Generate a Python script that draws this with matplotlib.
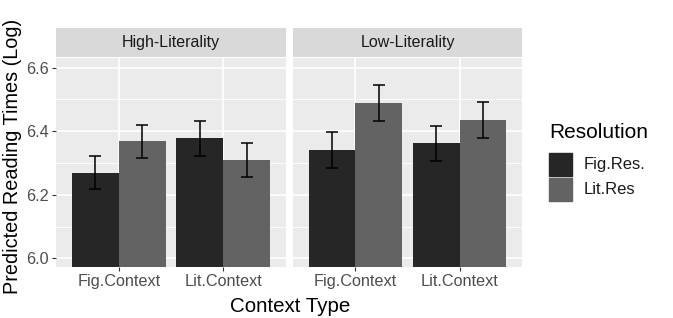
import matplotlib
matplotlib.use("Agg")
import matplotlib.pyplot as plt
import numpy as np

plt.rcParams['font.family'] = ['Liberation Sans', 'DejaVu Sans']

facets = ["High-Literality", "Low-Literality"]
contexts = ["Fig.Context", "Lit.Context"]
resolutions = ["Fig.Res.", "Lit.Res"]
# values[facet][resolution][context]
means = {
    "High-Literality": {"Fig.Res.": [6.270, 6.378], "Lit.Res": [6.368, 6.309]},
    "Low-Literality": {"Fig.Res.": [6.340, 6.362], "Lit.Res": [6.489, 6.435]},
}
errs = {
    "High-Literality": {"Fig.Res.": [0.053, 0.055], "Lit.Res": [0.052, 0.053]},
    "Low-Literality": {"Fig.Res.": [0.056, 0.055], "Lit.Res": [0.056, 0.057]},
}
colors = {"Fig.Res.": "#262626", "Lit.Res": "#636363"}
yticks = [6.0, 6.2, 6.4, 6.6]

W, H = 673, 318
fig = plt.figure(figsize=(W / 100, H / 100), dpi=100)

panel_x = [(56, 286), (293, 522)]
panel_top, panel_bot = 58, 267
strip_top = 28
ylim = (5.973, 6.63)

for fi, facet in enumerate(facets):
    x0, x1 = panel_x[fi]
    ax = fig.add_axes([x0 / W, 1 - panel_bot / H, (x1 - x0) / W, (panel_bot - panel_top) / H])
    ax.set_facecolor("#EBEBEB")
    for s in ax.spines.values():
        s.set_visible(False)
    ax.set_xlim(0.4, 2.6)
    ax.set_ylim(*ylim)
    for y in [6.1, 6.3, 6.5]:
        ax.axhline(y, color="white", lw=0.6, zorder=0)
    for y in yticks:
        ax.axhline(y, color="white", lw=1.2, zorder=0)
    xs = np.arange(1, len(contexts) + 1)
    for x in xs:
        ax.axvline(x, color="white", lw=1.2, zorder=0)
    bw = 0.45
    for ri, res in enumerate(resolutions):
        pos = xs + (ri - 0.5) * bw
        m = np.array(means[facet][res])
        ax.bar(pos, m - ylim[0], bottom=ylim[0], width=bw, color=colors[res], zorder=2)
        ax.errorbar(pos, m, yerr=errs[facet][res], fmt="none", ecolor="black",
                    elinewidth=1.1, capsize=4, capthick=1.1, zorder=3)
    ax.set_xticks(xs)
    ax.set_xticklabels(contexts, fontsize=11.7, color="#4D4D4D")
    ax.tick_params(axis="x", length=3, color="#333333", pad=2)
    if fi == 0:
        ax.set_yticks(yticks)
        ax.set_yticklabels([f"{v:.1f}" for v in yticks], fontsize=11.7, color="#4D4D4D")
        ax.tick_params(axis="y", length=3, color="#333333", pad=2)
    else:
        ax.set_yticks(yticks)
        ax.tick_params(axis="y", length=0, labelleft=False)
    # strip
    sax = fig.add_axes([x0 / W, 1 - (panel_top - 1) / H, (x1 - x0) / W, (panel_top - 1 - strip_top) / H])
    sax.set_facecolor("#D9D9D9")
    sax.set_xticks([]); sax.set_yticks([])
    for s in sax.spines.values():
        s.set_visible(False)
    sax.text(0.5, 0.5, facet, ha="center", va="center", fontsize=11.5, color="#1A1A1A",
             transform=sax.transAxes)

fig.text(290 / W, 1 - 306 / H, "Context Type", ha="center", va="center", fontsize=14.8)
fig.text(13 / W, 1 - 156 / H, "Predicted Reading Times (Log)", ha="center", va="center",
         rotation=90, fontsize=14.3)

# legend
fig.text(549 / W, 1 - 133 / H, "Resolution", ha="left", va="center", fontsize=15)
for ri, res in enumerate(resolutions):
    ky = 153 + ri * 25
    fig.patches.append(plt.Rectangle((549 / W, 1 - (ky + 23) / H), 23 / W, 23 / H,
                                     transform=fig.transFigure, color=colors[res]))
    fig.text(584 / W, 1 - (ky + 11.5) / H, res, ha="left", va="center", fontsize=12, color="#1A1A1A")

fig.savefig("out.png", dpi=100)
